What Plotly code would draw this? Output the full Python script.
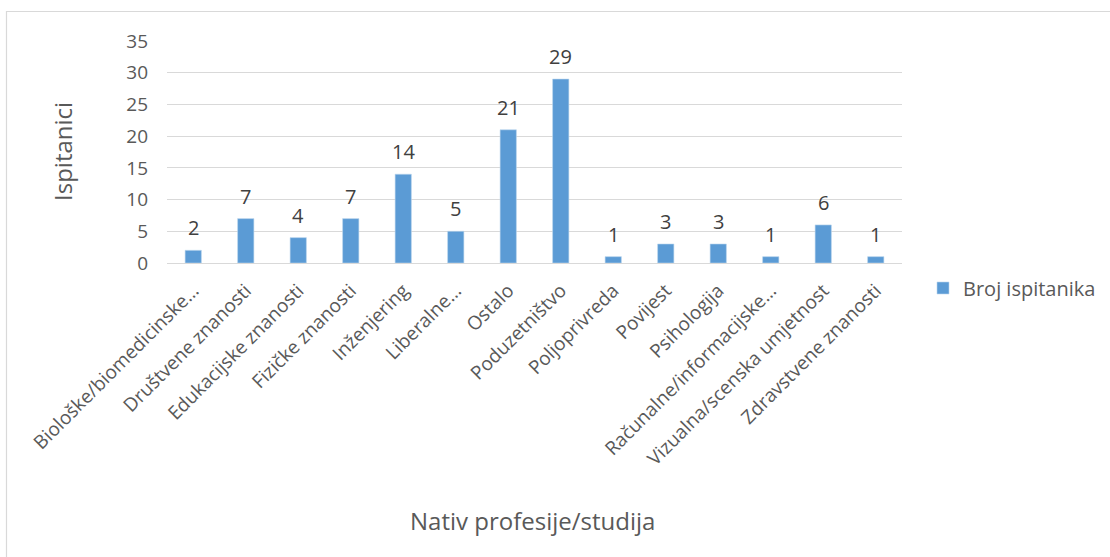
import plotly.graph_objects as go

categories = ["Biološke/biomedicinske…", "Društvene znanosti", "Edukacijske znanosti",
              "Fizičke znanosti", "Inženjering", "Liberalne…", "Ostalo", "Poduzetništvo",
              "Poljoprivreda", "Povijest", "Psihologija", "Računalne/informacijske…",
              "Vizualna/scenska umjetnost", "Zdravstvene znanosti"]
values = [2, 7, 4, 7, 14, 5, 21, 29, 1, 3, 3, 1, 6, 1]
y_ticks = [0, 5, 10, 15, 20, 25, 30, 35]
series_name = "Broj ispitanika"

W, H = 1110, 557
L, R, T, B = 167, 902, 41, 263
pw, ph = R - L, B - T

def px(x):
    return (x - L) / pw

def py(y):
    return (B - y) / ph

FONT = "Open Sans"
TXT = "#595959"

fig = go.Figure(go.Bar(
    x=categories, y=values, name=series_name,
    marker=dict(color="#5B9BD5", line=dict(color="#BDD7EE", width=0.6)),
    width=0.31,
    cliponaxis=False,
))

for c, v in zip(categories, values):
    fig.add_annotation(x=c, y=v, text=str(v), showarrow=False, xref="x", yref="y",
                       yanchor="bottom", yshift=7,
                       font=dict(size=20, color="#404040", family=FONT))

fig.update_layout(
    width=W, height=H,
    margin=dict(l=L, r=W - R, t=T, b=H - B, autoexpand=False),
    paper_bgcolor="white", plot_bgcolor="white",
    font=dict(family=FONT, color=TXT),
    showlegend=True,
    legend=dict(x=px(923), y=py(288), xanchor="left", yanchor="middle",
                font=dict(size=20, color=TXT, family=FONT),
                itemwidth=30, bgcolor="rgba(0,0,0,0)"),
    xaxis=dict(tickangle=-45, tickfont=dict(size=19, color=TXT, family=FONT),
               showgrid=False, showline=True, linecolor="#D9D9D9", linewidth=1,
               ticks="", automargin=False, ticklabelstandoff=8),
    yaxis=dict(range=[0, 35], tickvals=y_ticks, tickfont=dict(size=19, color=TXT, family=FONT),
               showgrid=True, gridcolor="#D9D9D9", gridwidth=1, zeroline=False,
               showline=False, ticks="", automargin=False, ticklabelstandoff=18),
    shapes=[dict(type="rect", xref="paper", yref="paper",
                 x0=px(6.5), x1=px(1116), y0=py(11.5), y1=py(565),
                 line=dict(color="#D9D9D9", width=1.2), fillcolor="rgba(0,0,0,0)", layer="below")],
)

fig.add_annotation(text="Nativ profesije/studija", xref="paper", yref="paper",
                   x=px(532), y=py(520), showarrow=False,
                   font=dict(size=24, color=TXT, family=FONT), xanchor="center", yanchor="middle")
fig.add_annotation(text="Ispitanici", xref="paper", yref="paper",
                   x=px(62), y=py(152), showarrow=False, textangle=-90,
                   font=dict(size=24, color=TXT, family=FONT), xanchor="center", yanchor="middle")

fig.write_html("out.html", config={"displayModeBar": False},
               post_script="document.body.style.margin='0px';")
